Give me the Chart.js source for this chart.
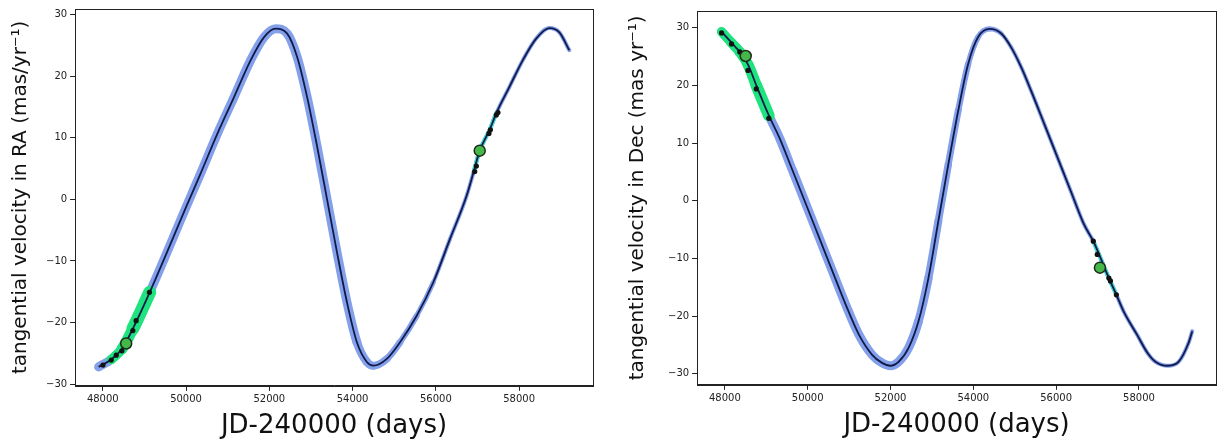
<!DOCTYPE html>
<html lang="en">
<head>
<meta charset="UTF-8">
<title>Tangential velocity</title>
<script src="https://cdn.jsdelivr.net/npm/chart.js"></script>
<style>
  body { margin: 0; background: #fff; overflow: hidden; }
  .panel { position: absolute; top: 0; height: 443px; }
</style>
</head>
<body>
<div class="panel" style="left:0; width:610px"><canvas id="raChart"></canvas></div>
<div class="panel" style="left:611px; width:612px"><canvas id="decChart"></canvas></div>

<script>
// tick values shared by both panels
const xTicks = [48000, 50000, 52000, 54000, 56000, 58000];
const yTicks = [-30, -20, -10, 0, 10, 20, 30];

// RA panel: model curve
const raX = [47900, 48203, 48459, 48722, 49127, 50062, 50356, 50756, 51153, 51553, 51870,
  52150, 52430, 52669, 52908, 53148, 53387, 53626, 53865, 54104, 54343, 54501, 54822, 55140,
  55540, 55937, 56336, 56735, 56910, 57054, 57293, 57453, 57771, 58090, 58410, 58728, 58967, 59206];
const raV = [-27.2, -26.0, -24.3, -21.0, -15.1, -0.3, 4.3, 10.7, 16.6, 22.6, 26.3,
  27.7, 26.9, 23.1, 16.6, 8.6, 0.0, -8.6, -16.7, -23.2, -26.4, -27.0, -25.9, -23.2,
  -18.9, -13.5, -6.5, 0.5, 4.5, 7.9, 11.3, 14.0, 18.3, 22.6, 26.1, 27.8, 27.1, 24.2];
// RA panel: observations
const raHipX = [48005, 48203, 48323, 48459, 48722, 48801, 49120];
const raHipV = [-26.9, -26.1, -25.3, -24.6, -21.3, -19.7, -15.1];
const raGaiaX = [56934, 56973, 57276, 57310, 57453, 57492];
const raGaiaV = [4.5, 5.4, 10.7, 11.3, 13.7, 14.1];
const raMarkX = [48562, 57054];
const raMarkV = [-23.4, 7.9];

// Dec panel: model curve
const decX = [47921, 48161, 48360, 48560, 48760, 49062, 49319, 49638, 49959, 50278, 50597, 50918,
  51237, 51556, 51796, 51997, 52197, 52437, 52676, 52916, 53156, 53396, 53635, 53875, 54115,
  54395, 54674, 54914, 55153, 55393, 55714, 56033, 56352, 56673, 56897, 57273, 57455, 57632,
  57952, 58208, 58395, 58696, 58959, 59194, 59287];
const decV = [29.3, 27.4, 25.8, 23.6, 20.0, 14.8, 10.9, 5.2, -0.6, -6.4, -12.2, -18.0,
  -23.2, -26.7, -28.1, -28.6, -27.9, -25.5, -20.9, -13.4, -3.5, 6.3, 15.6, 23.7, 28.4,
  29.8, 29.0, 26.6, 23.2, 19.1, 13.3, 7.5, 1.7, -4.1, -7.0, -13.4, -16.3, -19.2,
  -23.2, -26.4, -27.9, -28.6, -27.9, -24.7, -22.6];
// Dec panel: observations
const decHipX = [47921, 48161, 48360, 48559, 48760, 49062];
const decHipV = [29.1, 27.2, 25.8, 22.6, 19.4, 14.3];
const decGaiaX = [56897, 56993, 57273, 57311, 57455];
const decGaiaV = [-7.0, -9.3, -13.4, -13.9, -16.3];
const decMarkX = [48504, 57057];
const decMarkV = [25.1, -11.6];

const FONT = "'DejaVu Sans', sans-serif";

function pts(xs, ys) {
  return xs.map((x, i) => ({ x: x, y: ys[i] }));
}

function between(xs, ys, lo, hi) {
  return pts(xs, ys).filter(p => p.x >= lo && p.x <= hi);
}

// linear ramp of a line width between two x positions
function ramp(x0, x1, w0, w1) {
  return c => {
    const x = (c.p0.parsed.x + c.p1.parsed.x) / 2;
    const t = Math.min(1, Math.max(0, (x - x0) / (x1 - x0)));
    return w0 + (w1 - w0) * t;
  };
}

const boxPlugin = {
  id: 'box',
  afterDraw(chart) {
    const a = chart.chartArea;
    const ctx = chart.ctx;
    ctx.save();
    ctx.strokeStyle = '#222';
    ctx.lineWidth = 1;
    ctx.strokeRect(Math.round(a.left) + 0.5, Math.round(a.top) + 0.5,
      Math.round(a.right - a.left), Math.round(a.bottom - a.top));
    ctx.restore();
  }
};

function makePanel(id, cfg) {
  const minus = v => String(v).replace('-', '\u2212');
  new Chart(document.getElementById(id), {
    type: 'line',
    data: {
      datasets: [
        { // uncertainty band of the orbit
          data: pts(cfg.x, cfg.v), borderColor: '#84a0eb', borderWidth: 9,
          borderCapStyle: 'round', borderJoinStyle: 'round',
          segment: { borderWidth: cfg.bandWidth },
          pointRadius: 0, cubicInterpolationMode: 'monotone', order: 6
        },
        { // Hipparcos epoch band
          data: between(cfg.x, cfg.v, cfg.hipX[0] - 100, cfg.hipX[cfg.hipX.length - 1] + 20),
          borderColor: '#1fe37f', borderWidth: 10, borderCapStyle: 'round',
          segment: { borderWidth: cfg.greenWidth },
          pointRadius: 0, cubicInterpolationMode: 'monotone', order: 5
        },
        { // Gaia epoch band
          data: between(cfg.x, cfg.v, cfg.gaiaX[0] - 40, cfg.gaiaX[cfg.gaiaX.length - 1] + 40),
          borderColor: '#3ddbc8', borderWidth: 4, borderCapStyle: 'round',
          pointRadius: 0, cubicInterpolationMode: 'monotone', order: 4
        },
        { // best-fit orbit
          data: pts(cfg.x, cfg.v), borderColor: '#111a4a', borderWidth: 1.8,
          pointRadius: 0, cubicInterpolationMode: 'monotone', order: 3
        },
        {
          data: pts(cfg.hipX, cfg.hipV).concat(pts(cfg.gaiaX, cfg.gaiaV)),
          showLine: false, pointRadius: 2.6, pointBackgroundColor: '#111',
          pointBorderWidth: 0, order: 2
        },
        {
          data: pts(cfg.markX, cfg.markV), showLine: false, pointRadius: 5.5,
          pointBackgroundColor: '#45b84a', pointBorderColor: '#1d2a1d',
          pointBorderWidth: 1.5, order: 1
        }
      ]
    },
    options: {
      responsive: true,
      maintainAspectRatio: false,
      animation: false,
      layout: { padding: cfg.padding },
      plugins: { legend: { display: false }, tooltip: { enabled: false } },
      scales: {
        x: {
          type: 'linear', min: cfg.xMin, max: cfg.xMax,
          afterBuildTicks: axis => { axis.ticks = xTicks.map(v => ({ value: v })); },
          ticks: { callback: v => String(v), font: { family: FONT, size: 10 }, color: '#222',
            padding: 3, maxRotation: 0, autoSkip: false },
          grid: { drawOnChartArea: false, tickLength: 5, color: '#222' },
          border: { color: '#222' },
          title: { display: true, text: 'JD-240000 (days)', color: '#111',
            font: { family: FONT, size: 26 }, padding: { top: 2, bottom: 0 } }
        },
        y: {
          type: 'linear', min: cfg.yMin, max: cfg.yMax,
          afterBuildTicks: axis => { axis.ticks = yTicks.map(v => ({ value: v })); },
          ticks: { callback: minus, font: { family: FONT, size: 10 }, color: '#222', padding: 3 },
          grid: { drawOnChartArea: false, tickLength: 5, color: '#222' },
          border: { color: '#222' },
          title: { display: true, text: cfg.yTitle, color: '#111',
            font: { family: FONT, size: 20 }, padding: { top: 0, bottom: cfg.titleGap } }
        }
      }
    },
    plugins: [boxPlugin]
  });
}

makePanel('raChart', {
  x: raX, v: raV, hipX: raHipX, hipV: raHipV, gaiaX: raGaiaX, gaiaV: raGaiaV,
  markX: raMarkX, markV: raMarkV,
  xMin: 47335, xMax: 59775, yMin: -30.27, yMax: 30.9,
  yTitle: 'tangential velocity in RA (mas/yr\u207B\u00B9)',
  padding: { left: 9, right: 17, top: 4, bottom: 1 }, titleGap: 10,
  bandWidth: ramp(54000, 56200, 9, 4),
  greenWidth: ramp(47900, 49100, 7, 14)
});

makePanel('decChart', {
  x: decX, v: decV, hipX: decHipX, hipV: decHipV, gaiaX: decGaiaX, gaiaV: decGaiaV,
  markX: decMarkX, markV: decMarkV,
  xMin: 47330, xMax: 59860, yMin: -31.9, yMax: 32.9,
  yTitle: 'tangential velocity in Dec (mas yr\u207B\u00B9)',
  padding: { left: 15, right: 0, top: 11, bottom: 2 }, titleGap: 15,
  bandWidth: ramp(52600, 54800, 9, 4),
  greenWidth: ramp(47900, 49000, 9, 12)
});
</script>
</body>
</html>
